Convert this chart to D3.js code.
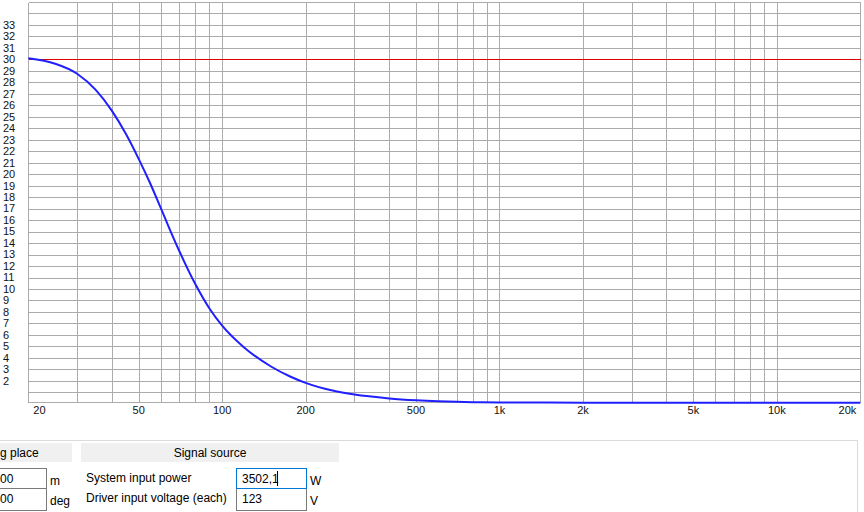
<!DOCTYPE html>
<html><head><meta charset="utf-8">
<script src="https://cdn.jsdelivr.net/npm/d3@7"></script>
<style>body{margin:0;background:#fff;overflow:hidden} svg{display:block;}</style>
</head><body><svg id="c" width="864" height="512"></svg>
<script>
// ---- data ----
const freqs  = [20, 25, 30, 35, 40, 45, 50, 55, 60, 65, 70, 80, 90, 100, 120, 150, 175, 200, 250, 300, 400, 500, 600, 700, 800, 1000, 2000, 5000, 10000, 20000];
const values = [30.1, 29.62, 28.75, 27.34, 25.54, 23.5, 21.34, 19.21, 17.08, 15.09, 13.33, 10.43, 8.3, 6.8, 4.9, 3.25, 2.4, 1.82, 1.15, 0.8, 0.47, 0.31, 0.22, 0.17, 0.14, 0.12, 0.10, 0.10, 0.10, 0.10];
const xTickValues = [20, 50, 100, 200, 500, 1000, 2000, 5000, 10000, 20000];
const xTickLabels = ["20", "50", "100", "200", "500", "1k", "2k", "5k", "10k", "20k"];
const yTickValues = d3.range(2, 34);
const refLevel = 30;
const xDomain = [20, 20000];
const yDomain = [0.2, 35];

// ---- chart ----
const svg = d3.select("#c");
const x = d3.scaleLog().domain(xDomain).range([28.3, 860.3]);
const y = d3.scaleLinear().domain(yDomain).range([401.5, 2]);
const px = v => Math.round(x(v)) + 0.5;
const py = v => Math.round(y(v)) + 0.5;

const grid = svg.append("g").attr("stroke", "#ababab").attr("stroke-width", 1).attr("shape-rendering", "crispEdges");
// horizontal grid
const hLines = d3.range(1, 36).concat([yDomain[0]]);
grid.selectAll("line.h").data(hLines).join("line")
  .attr("x1", px(xDomain[0])).attr("x2", px(xDomain[1]))
  .attr("y1", d => py(d)).attr("y2", d => py(d));
// vertical grid
const vLines = [];
[10, 100, 1000, 10000].forEach(dec => { for (let m = 1; m <= 9; m++) { const f = dec * m; if (f >= 20 && f <= 20000) vLines.push(f); } });
vLines.push(20000);
grid.selectAll("line.v").data(vLines).join("line")
  .attr("x1", d => px(d)).attr("x2", d => px(d))
  .attr("y1", py(yDomain[1])).attr("y2", py(yDomain[0]));

// reference line
svg.append("line")
  .attr("x1", px(xDomain[0])).attr("x2", px(xDomain[1]))
  .attr("y1", py(refLevel)).attr("y2", py(refLevel))
  .attr("stroke", "#dd0000").attr("stroke-width", 1).attr("shape-rendering", "crispEdges");

// curve
const data = freqs.map((f, i) => ({f, v: values[i]}));
svg.append("path").datum(data)
  .attr("fill", "none").attr("stroke", "#2020ff").attr("stroke-width", 2)
  .attr("d", d3.line().x(d => x(d.f)).y(d => y(d.v)).curve(d3.curveMonotoneX));

// y labels
svg.append("g").selectAll("text").data(yTickValues).join("text")
  .attr("x", 3).attr("y", d => y(d)).attr("dy", "0.35em")
  .attr("font-family", "Liberation Sans, Arial, sans-serif").attr("font-size", 11)
  .attr("fill", "#111").text(d => d);

// x labels
svg.append("g").selectAll("text").data(xTickValues).join("text")
  .attr("x", (d, i) => i === 0 ? x(d) + 5 : (i === xTickValues.length - 1 ? x(d) - 4 : x(d)))
  .attr("y", 414)
  .attr("text-anchor", (d, i) => i === 0 ? "start" : (i === xTickValues.length - 1 ? "end" : "middle"))
  .attr("font-family", "Liberation Sans, Arial, sans-serif").attr("font-size", 11)
  .attr("fill", "#111").text((d, i) => xTickLabels[i]);

// ---- bottom panel ----
const ui = svg.append("g").attr("font-family", "Liberation Sans, Arial, sans-serif").attr("font-size", 12).attr("fill", "#000");
ui.append("line").attr("x1", 0).attr("x2", 858).attr("y1", 440.5).attr("y2", 440.5).attr("stroke", "#dadada").attr("shape-rendering", "crispEdges");
ui.append("line").attr("x1", 857.5).attr("x2", 857.5).attr("y1", 440).attr("y2", 512).attr("stroke", "#dadada").attr("shape-rendering", "crispEdges");

ui.append("rect").attr("x", 0).attr("y", 443).attr("width", 72).attr("height", 19).attr("fill", "#f0f0f0");
ui.append("text").attr("x", 0).attr("y", 457).text("g place");
ui.append("rect").attr("x", 81).attr("y", 443).attr("width", 258).attr("height", 19).attr("fill", "#f0f0f0");
ui.append("text").attr("x", 210).attr("y", 457).attr("text-anchor", "middle").text("Signal source");

// left input boxes
ui.append("rect").attr("x", -2.5).attr("y", 468.5).attr("width", 49).attr("height", 20).attr("fill", "#fff").attr("stroke", "#7a7a7a");
ui.append("rect").attr("x", -2.5).attr("y", 488.5).attr("width", 49).attr("height", 22).attr("fill", "#fff").attr("stroke", "#7a7a7a");
ui.append("text").attr("x", 0).attr("y", 483).text("00");
ui.append("text").attr("x", 0).attr("y", 503).text("00");
ui.append("text").attr("x", 50).attr("y", 485).text("m");
ui.append("text").attr("x", 50).attr("y", 505).text("deg");

ui.append("text").attr("x", 86).attr("y", 482).text("System input power");
ui.append("text").attr("x", 86).attr("y", 502).text("Driver input voltage (each)");

ui.append("rect").attr("x", 236.5).attr("y", 488.5).attr("width", 70).attr("height", 22).attr("fill", "#fff").attr("stroke", "#7a7a7a");
ui.append("rect").attr("x", 236.5).attr("y", 468.5).attr("width", 70).attr("height", 20).attr("fill", "#fff").attr("stroke", "#0078d7");
ui.append("text").attr("x", 242).attr("y", 483).text("3502,1");
ui.append("line").attr("x1", 277.5).attr("x2", 277.5).attr("y1", 471).attr("y2", 486).attr("stroke", "#000").attr("shape-rendering", "crispEdges");
ui.append("text").attr("x", 242).attr("y", 503).text("123");
ui.append("text").attr("x", 310).attr("y", 485).text("W");
ui.append("text").attr("x", 310).attr("y", 505).text("V");
</script>
</body></html>
